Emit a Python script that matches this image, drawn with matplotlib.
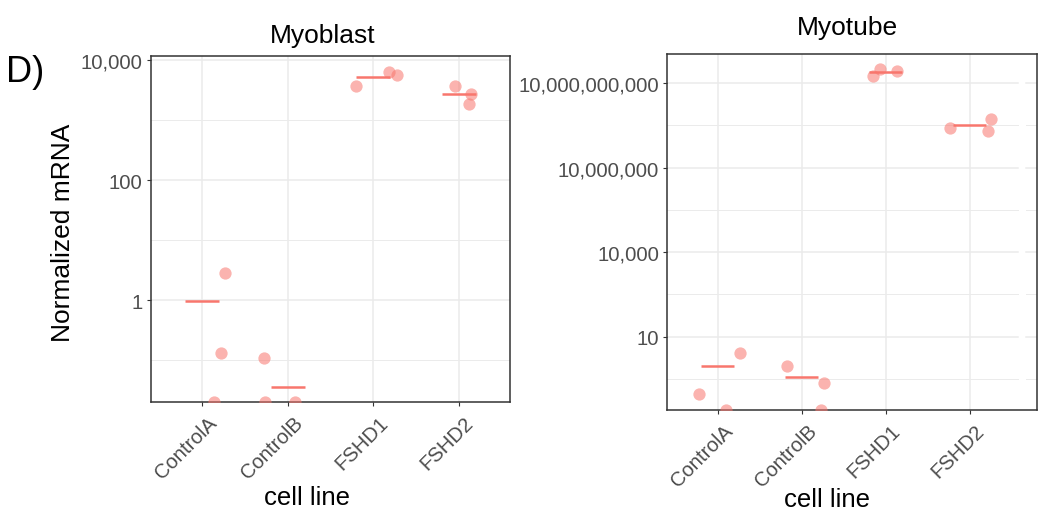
import numpy as np
import matplotlib
matplotlib.use("Agg")
import matplotlib.pyplot as plt
from matplotlib.ticker import FixedLocator, FuncFormatter, NullLocator
from matplotlib.transforms import ScaledTranslation

plt.rcParams['font.family'] = ['Liberation Sans', 'DejaVu Sans']

cell_lines = ["ControlA", "ControlB", "FSHD1", "FSHD2"]

# normalized mRNA per replicate (0 = not detected, drawn on the lower edge)
myoblast_values = [
    [2.79, 0.131, 0.0],
    [0.108, 0.0, 0.0],
    [3730, 6380, 5690],
    [3730, 2680, 1827],
]
myoblast_jitter = [
    [0.27, 0.22, 0.14],
    [-0.28, -0.27, 0.08],
    [-0.20, 0.19, 0.28],
    [-0.04, 0.14, 0.12],
]
myotube_values = [
    [2.70, 0.095, 0.0],
    [0.91, 0.226, 0.0],
    [1.78e10, 3.06e10, 2.60e10],
    [2.59e8, 5.13e8, 1.93e8],
]
myotube_jitter = [
    [0.27, -0.22, 0.10],
    [-0.175, 0.26, 0.23],
    [-0.15, -0.07, 0.14],
    [-0.23, 0.25, 0.22],
]

myoblast_yticks = [1, 100, 10000]
myoblast_minor = [0.1, 10, 1000]
myotube_yticks = [10, 1e4, 1e7, 1e10]
myotube_minor = [10 ** -0.5, 10 ** 2.5, 10 ** 5.5, 10 ** 8.5]

POINT = '#F8766D'
GRID = '#EBEBEB'


def draw_panel(ax, values, jitter, yticks, minor, ylim, xlim, grid_gap=None):
    ax.set_yscale('log')
    ax.set_xlim(*xlim)
    ax.set_ylim(*ylim)
    x = np.arange(1, len(cell_lines) + 1)

    if grid_gap is None:
        segs = [(xlim[0], xlim[1])]
    else:
        segs = [(xlim[0], grid_gap[0]), (grid_gap[1], xlim[1])]
    for yv, lw in [(v, 1.1) for v in yticks] + [(v, 0.7) for v in minor]:
        for a, b in segs:
            ax.plot([a, b], [yv, yv], color=GRID, lw=lw, zorder=0)
    for xi in x:
        ax.axvline(xi, color=GRID, lw=1.1, zorder=0)

    for i, (vals, jit) in enumerate(zip(values, jitter)):
        vals = np.asarray(vals, dtype=float)
        ys = np.where(vals > 0, vals, ylim[0])
        ax.scatter(x[i] + np.asarray(jit), ys, s=78, color=POINT, alpha=0.55,
                   linewidths=0, zorder=3)
        ax.hlines(vals.mean(), x[i] - 0.2, x[i] + 0.2, color=POINT, lw=1.8, zorder=4)

    ax.yaxis.set_major_locator(FixedLocator(yticks))
    ax.yaxis.set_minor_locator(NullLocator())
    ax.yaxis.set_major_formatter(FuncFormatter(lambda v, p: f"{v:,.0f}"))
    ax.set_xticks(x)
    ax.set_xticklabels(cell_lines, rotation=45, ha='right', rotation_mode='anchor')
    ax.tick_params(length=3, width=0.8, color='#333333', labelcolor='#4D4D4D',
                   labelsize=14.6, pad=3)
    ax.tick_params(axis='x', pad=4.5)
    shift = ScaledTranslation(5 / 100, 0, ax.figure.dpi_scale_trans)
    for lab in ax.get_xticklabels():
        lab.set_transform(lab.get_transform() + shift)
    for sp in ax.spines.values():
        sp.set_color('#333333')
        sp.set_linewidth(1.1)


fig = plt.figure(figsize=(10.4, 5.1), dpi=100)
W, H = 1040, 510

ax1 = fig.add_axes([151 / W, 1 - 403.3 / H, (510 - 151) / W, (403.3 - 57.3) / H])
draw_panel(ax1, myoblast_values, myoblast_jitter, myoblast_yticks, myoblast_minor,
           (10 ** -1.705, 10 ** 4.062), (0.4, 4.6))

ax2 = fig.add_axes([667.3 / W, 1 - 411 / H, (1036.7 - 667.3) / W, (411 - 55) / H])
draw_panel(ax2, myotube_values, myotube_jitter, myotube_yticks, myotube_minor,
           (10 ** -1.602, 10 ** 11.03), (0.4, 4.798), grid_gap=(4.58, 4.67))

fig.text(322.5 / W, 1 - 42.7 / H, "Myoblast", ha='center', va='baseline', fontsize=19)
fig.text(847 / W, 1 - 35.5 / H, "Myotube", ha='center', va='baseline', fontsize=19)
fig.text(63.3 / W, 1 - 233 / H, "Normalized mRNA", rotation=90, ha='center',
         va='center', fontsize=19)
fig.text(306.7 / W, 1 - 505 / H, "cell line", ha='center', va='baseline', fontsize=18.5)
fig.text(826.7 / W, 1 - 506.7 / H, "cell line", ha='center', va='baseline', fontsize=18.5)
fig.text(6 / W, 1 - 81.7 / H, "D)", ha='left', va='baseline', fontsize=26)

fig.savefig("out.png", dpi=100)
